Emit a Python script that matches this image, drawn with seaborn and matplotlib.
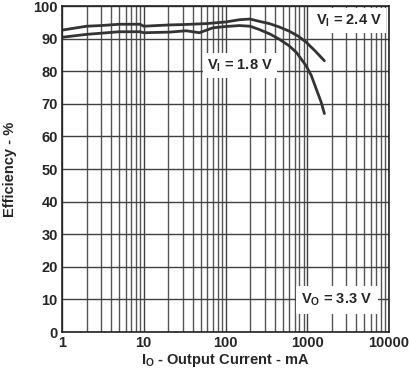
import matplotlib
matplotlib.use("Agg")
import matplotlib.pyplot as plt
import pandas as pd
import seaborn as sns
from matplotlib.ticker import FixedLocator, NullFormatter

# data
i_24 = [1, 2, 3, 5, 9, 10, 21, 30, 58, 100, 150, 200, 258, 344, 450, 600, 770, 960, 1250, 1620]
eff_24 = [92.6, 93.8, 94.0, 94.4, 94.4, 93.8, 94.2, 94.3, 94.6, 95.1, 95.8, 96.0, 95.3, 94.6, 93.6, 92.3, 90.8, 89.0, 86.2, 83.2]

i_18 = [1, 2, 5, 9, 10, 21, 33, 48, 70, 100, 148, 200, 258, 350, 456, 600, 740, 960, 1120, 1290, 1480, 1620]
eff_18 = [90.4, 91.3, 92.1, 92.1, 91.8, 92.0, 92.4, 91.8, 93.3, 93.7, 94.0, 93.8, 92.8, 91.4, 89.8, 87.8, 85.7, 81.8, 78.7, 74.5, 70.5, 67.0]

x_ticks = [1, 10, 100, 1000, 10000]
y_ticks = list(range(0, 101, 10))

df = pd.concat([
    pd.DataFrame({"I": i_24, "eff": eff_24, "vin": "2.4"}),
    pd.DataFrame({"I": i_18, "eff": eff_18, "vin": "1.8"}),
])

sns.set_style("white")
plt.rcParams["font.family"] = ["Liberation Sans", "DejaVu Sans"]
plt.rcParams["font.weight"] = "bold"
plt.rcParams["mathtext.fontset"] = "custom"
plt.rcParams["mathtext.rm"] = "Liberation Sans:bold"
plt.rcParams["mathtext.it"] = "Liberation Sans:bold"
plt.rcParams["mathtext.bf"] = "Liberation Sans:bold"

fig = plt.figure(figsize=(4.09, 3.71), dpi=100)
ax = fig.add_axes([62 / 409, 1 - 332 / 371, 327 / 409, 326 / 371])

sns.lineplot(data=df, x="I", y="eff", units="vin", estimator=None,
             color="#333333", linewidth=2, ax=ax, legend=False, sort=False)

ax.set_xscale("log")
ax.set_xlim(1, 10000)
ax.set_ylim(0, 100)
ax.xaxis.set_major_locator(FixedLocator(x_ticks))
ax.set_xticklabels([str(t) for t in x_ticks])
minor = [m * 10 ** d for d in range(4) for m in range(2, 10)]
ax.xaxis.set_minor_locator(FixedLocator(minor))
ax.xaxis.set_minor_formatter(NullFormatter())
ax.set_yticks(y_ticks)

ax.grid(True, which="major", color="#404040", linewidth=1)
ax.grid(True, which="minor", axis="x", color="#555555", linewidth=1)
ax.tick_params(which="both", length=0, labelsize=10.5, pad=3)
for lbl in ax.get_xticklabels() + ax.get_yticklabels():
    lbl.set_fontweight("bold")
for s in ax.spines.values():
    s.set_color("#222222")
    s.set_linewidth(1.2)

ax.set_xlabel(r"I$_\mathregular{O}$ - Output Current - mA", fontsize=10.5, fontweight="bold", labelpad=1)
ax.set_ylabel("Efficiency - %", fontsize=10.5, fontweight="bold", labelpad=12)

box = dict(facecolor="white", edgecolor="none", pad=3)
ax.text(3240, 95.6, r"V$_\mathregular{I}$ = 2.4 V", ha="center", va="center",
        fontsize=10.5, fontweight="bold", bbox=box)
ax.text(150, 81.8, r"V$_\mathregular{I}$ = 1.8 V", ha="center", va="center",
        fontsize=10.5, fontweight="bold", bbox=box)
ax.text(2300, 9.8, r"V$_\mathregular{O}$ = 3.3 V", ha="center", va="center",
        fontsize=10.5, fontweight="bold", bbox=dict(facecolor="white", edgecolor="none", pad=4))

fig.savefig("out.png", dpi=100)
